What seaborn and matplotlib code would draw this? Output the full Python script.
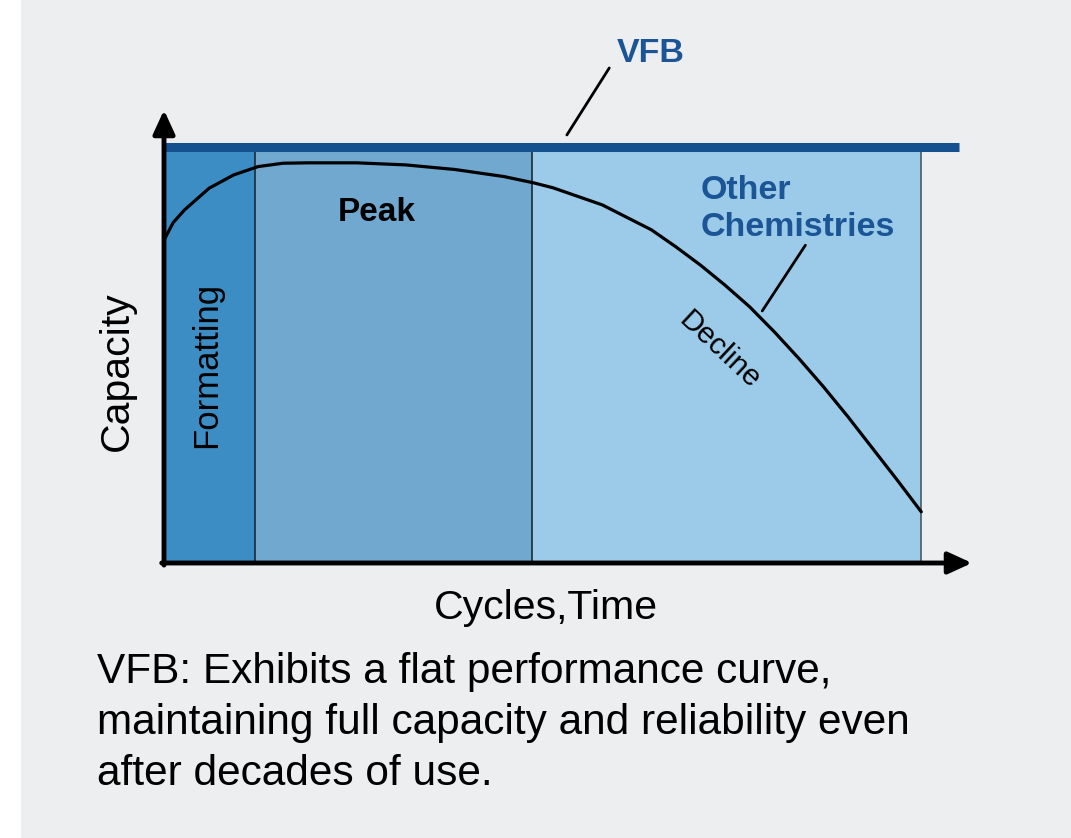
import matplotlib
matplotlib.use("Agg")
import matplotlib.pyplot as plt
import seaborn as sns
import pandas as pd
from matplotlib.patches import Rectangle

# phases along the time axis (boundaries) and their fills
phase_names = ["Formatting", "Peak", "Decline"]
phase_edges = [0, 12.0, 48.6, 100.0]
phase_colors = ["#3d8dc5", "#70a8d0", "#9bcbe9"]

# capacity curve of other chemistries
cycles = [0, 1.2, 2.72, 5.96, 9.21, 12.44, 15.69, 18.93, 25.43, 31.92, 38.40,
          44.89, 48.78, 51.37, 57.86, 64.36, 67.60, 70.85, 74.08, 77.33,
          80.58, 83.82, 87.07, 90.30, 93.55, 96.80, 100.0]
capacity = [77.6, 81.8, 84.9, 90.1, 93.3, 95.3, 96.1, 96.2, 96.2, 95.7, 94.6,
            92.9, 91.4, 90.2, 86.1, 80.1, 76.0, 71.6, 66.8, 61.6,
            55.6, 49.2, 42.4, 35.2, 27.6, 20.0, 12.3]

# flat VFB line
vfb_x = [0, 105.0]
vfb_y = [100, 100]

caption = ["VFB: Exhibits a flat performance curve,",
           "maintaining full capacity and reliability even",
           "after decades of use."]

sns.set_theme(style="white")
plt.rcParams["font.family"] = ["Liberation Sans", "DejaVu Sans"]
plt.rcParams["text.color"] = "black"

W, H = 1071, 838
fig = plt.figure(figsize=(W / 100, H / 100), dpi=100, facecolor="#edeef0")
fig.patches.append(Rectangle((0, 0), 21 / W, 1, transform=fig.transFigure,
                             facecolor="white", edgecolor="none", zorder=-10))

x0, x1, y0, y1 = 164, 972, 563, 110
ax = fig.add_axes([x0 / W, 1 - y0 / H, (x1 - x0) / W, (y0 - y1) / H])
ax.set_facecolor("none")
ax.set_xlim(0, 106.7)
ax.set_ylim(0, 108.9)
for s in ax.spines.values():
    s.set_visible(False)
ax.set_xticks([])
ax.set_yticks([])

# phase bands
for i, name in enumerate(phase_names):
    ax.axvspan(phase_edges[i], phase_edges[i + 1], ymin=0, ymax=100 / 108.9,
               color=phase_colors[i], lw=0, zorder=0)
for e, c in zip(phase_edges[1:], ["#1a2a36", "#1a2a36", "#4a5a66"]):
    ax.plot([e, e], [0, 100], color=c, lw=1.2, zorder=1)

# curves
df = pd.DataFrame({"cycles": cycles, "capacity": capacity})
sns.lineplot(data=df, x="cycles", y="capacity", color="black", lw=2.3, ax=ax,
             zorder=3, solid_joinstyle="round")
sns.lineplot(x=vfb_x, y=vfb_y, color="#15508f", lw=6.5, ax=ax, zorder=4,
             solid_capstyle="butt")
ax.set_xlabel("")
ax.set_ylabel("")

# axis arrows
arrow = dict(arrowstyle="-|>,head_length=1.2,head_width=0.55", color="black",
             lw=3.5, shrinkA=0, shrinkB=0)
ax.annotate("", xy=(106.7, 0), xytext=(-0.3, 0), arrowprops=arrow,
            annotation_clip=False, zorder=6)
ax.annotate("", xy=(0, 108.9), xytext=(0, -0.5), arrowprops=arrow,
            annotation_clip=False, zorder=6)

# labels in the plot
blue = "#1b5595"
ax.text(28.1, 82.1, "Peak", fontsize=24, fontweight="bold", ha="center",
        va="baseline", zorder=5)
ax.text(5.6, 47.6, "Formatting", fontsize=25, rotation=90, ha="center",
        va="center", zorder=5)
ax.text(73.3, 51.2, "Decline", fontsize=21.5, rotation=-43, ha="center",
        va="center", rotation_mode="anchor", zorder=5)
ax.text(70.8, 87.5, "Other", fontsize=24.5, fontweight="bold", color=blue,
        va="baseline", zorder=5)
ax.text(70.8, 78.6, "Chemistries", fontsize=24.5, fontweight="bold", color=blue,
        va="baseline", zorder=5)
ax.plot([79.0, 84.7], [60.6, 76.4], color="black", lw=2, zorder=5)
ax.plot([53.2, 58.8], [102.9, 119.0], color="black", lw=2, zorder=5, clip_on=False)
ax.text(64.3, 120.4, "VFB", fontsize=24.5, fontweight="bold", color=blue,
        ha="center", va="baseline", clip_on=False)

# axis titles and caption
fig.text(117 / W, 1 - 371 / H, "Capacity", fontsize=29.5, rotation=90,
         ha="center", va="center")
fig.text(546 / W, 1 - 619 / H, "Cycles,Time", fontsize=29.5, ha="center",
         va="baseline")
for line, base in zip(caption, [683, 734, 785]):
    fig.text(97 / W, 1 - base / H, line, fontsize=30.5, va="baseline")

fig.savefig("out.png", dpi=100, facecolor=fig.get_facecolor())
